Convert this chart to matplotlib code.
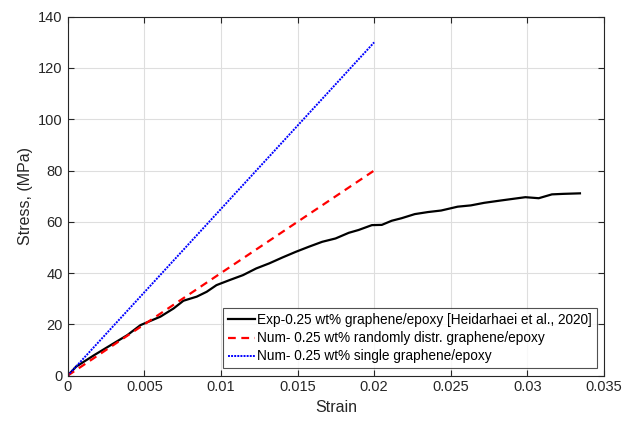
import numpy as np
import matplotlib
matplotlib.use('Agg')
from matplotlib import pyplot as plt

plt.rcParams['font.family'] = ['Liberation Sans', 'DejaVu Sans']

# experimental curve (Heidarhaei et al., 2020)
exp_strain = [0, 0.00055, 0.00173, 0.00281, 0.00389, 0.00475, 0.00605, 0.00691, 0.00755,
              0.00842, 0.00907, 0.00971, 0.01058, 0.01144, 0.0123, 0.01316, 0.01402, 0.01489,
              0.01575, 0.01661, 0.01748, 0.01834, 0.01898, 0.01985, 0.0205, 0.02114, 0.02179,
              0.02265, 0.02351, 0.02437, 0.02545, 0.02631, 0.02718, 0.02825, 0.02912, 0.02987,
              0.03074, 0.0316, 0.03235, 0.03343]
exp_stress = [0, 3.5, 8.0, 11.9, 15.8, 19.7, 23.0, 26.2, 29.2,
              30.8, 32.7, 35.3, 37.3, 39.2, 41.8, 43.8, 46.1, 48.3,
              50.3, 52.2, 53.5, 55.7, 56.8, 58.7, 58.8, 60.4, 61.4,
              63.0, 63.8, 64.4, 65.9, 66.4, 67.4, 68.3, 69.0, 69.6,
              69.2, 70.7, 70.9, 71.1]

# numerical models
num_strain = [0, 0.02]
random_stress = [0, 80]
single_stress = [0, 130]

fig = plt.figure(figsize=(6.37, 4.21), dpi=100)
ax = fig.add_axes([0.1063, 0.1078, 0.8419, 0.8525])

ax.plot(exp_strain, exp_stress, color='black', lw=1.6,
        label='Exp-0.25 wt% graphene/epoxy [Heidarhaei et al., 2020]')
ax.plot(num_strain, random_stress, color='red', lw=1.6, ls=(0, (3.5, 2.5)),
        label='Num- 0.25 wt% randomly distr. graphene/epoxy')
ax.plot(num_strain, single_stress, color='blue', lw=1.4, ls=(0, (1, 0.6)),
        label='Num- 0.25 wt% single graphene/epoxy')

ax.set_xlim(0, 0.035)
ax.set_ylim(0, 140)
ax.set_xticks(np.arange(0, 0.0351, 0.005))
ax.set_xticklabels(['0', '0.005', '0.01', '0.015', '0.02', '0.025', '0.03', '0.035'])
ax.set_yticks(np.arange(0, 141, 20))
ax.grid(True, color='#dedede', lw=0.8)
ax.set_axisbelow(True)
ax.tick_params(direction='in', length=4, top=True, right=True, labelsize=10.5,
               colors='#262626', width=0.8)
for s in ax.spines.values():
    s.set_color('#262626')
    s.set_linewidth(0.8)

ax.set_xlabel('Strain', fontsize=11.5, color='#262626')
ax.set_ylabel('Stress, (MPa)', fontsize=11.5, color='#262626')

leg = ax.legend(loc='lower right', fontsize=9.8, frameon=True, fancybox=False,
                edgecolor='#262626', handlelength=2.0, handletextpad=0.15,
                borderpad=0.35, labelspacing=0.3, borderaxespad=0.55)
leg.get_frame().set_linewidth(0.8)

plt.savefig('out.png', dpi=100)
